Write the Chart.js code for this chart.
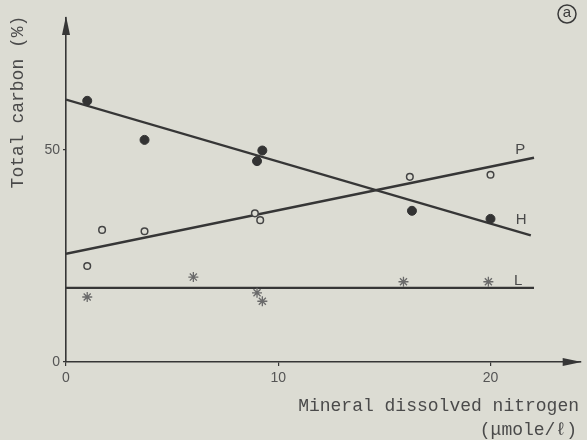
<!DOCTYPE html>
<html>
<head>
<meta charset="utf-8">
<script src="https://cdn.jsdelivr.net/npm/chart.js@4"></script>
<style>
  html, body { margin: 0; padding: 0; background: #dcdcd3; }
  #wrap { width: 587px; height: 440px; position: relative; }
</style>
</head>
<body>
<div id="wrap"><canvas id="chart"></canvas></div>
<script>
// Total carbon vs. mineral dissolved nitrogen, three groups (H, P, L)

// H: filled circles
var hX = [1.0, 3.7, 9.0, 9.25, 16.3, 20.0];
var hY = [61.5, 52.3, 47.3, 49.8, 35.6, 33.7];
// P: open circles
var pX = [1.0, 1.7, 3.7, 8.9, 9.15, 16.2, 20.0];
var pY = [22.6, 31.1, 30.8, 35.0, 33.4, 43.6, 44.1];
// L: asterisks
var lX = [1.0, 6.0, 9.0, 9.25, 15.9, 19.9];
var lY = [15.3, 20.0, 16.3, 14.3, 18.9, 18.9];

// fitted lines, [start, end]
var hFitX = [0, 21.9],  hFitY = [61.8, 29.8];
var pFitX = [0, 22.05], pFitY = [25.5, 48.1];
var lFitX = [0, 22.05], lFitY = [17.45, 17.45];

// series tags at the right end of each line
var tagText = ['P', 'H', 'L'];
var tagX = [21.4, 21.45, 21.3];
var tagY = [50.0, 33.4, 19.1];

var xTicks = [0, 10, 20];
var yTicks = [0, 50];
var xMax = 24.25, yMax = 81;

var BG = '#dcdcd3';
var INK = '#363636';
var MONO = '"Liberation Mono", "DejaVu Sans Mono", monospace';
var SANS = '"Liberation Sans", Arial, sans-serif';

function pts(xs, ys) {
  return xs.map(function(x, i) { return { x: x, y: ys[i] }; });
}

function fitLine(xs, ys) {
  return {
    type: 'line',
    data: pts(xs, ys),
    borderColor: INK,
    borderWidth: 2.4,
    pointRadius: 0,
    fill: false,
    tension: 0,
    order: 2
  };
}

// axis arrows, titles, series tags and the panel letter
var decorations = {
  id: 'decorations',
  afterDraw: function(chart) {
    var ctx = chart.ctx, a = chart.chartArea;
    var xs = chart.scales.x, ys = chart.scales.y;
    ctx.save();
    ctx.fillStyle = INK;
    // y arrow
    ctx.beginPath();
    ctx.moveTo(a.left, a.top - 2);
    ctx.lineTo(a.left - 4, a.top + 17);
    ctx.lineTo(a.left + 4, a.top + 17);
    ctx.closePath();
    ctx.fill();
    // x arrow
    ctx.beginPath();
    ctx.moveTo(a.right + 1, a.bottom);
    ctx.lineTo(a.right - 18, a.bottom - 4);
    ctx.lineTo(a.right - 18, a.bottom + 4);
    ctx.closePath();
    ctx.fill();

    // axis titles
    ctx.fillStyle = '#4a4a4a';
    ctx.font = '18px ' + MONO;
    ctx.textBaseline = 'middle';
    ctx.save();
    ctx.translate(18, 102);
    ctx.rotate(-Math.PI / 2);
    ctx.textAlign = 'center';
    ctx.fillText('Total carbon (%)', 0, 0);
    ctx.restore();
    ctx.textAlign = 'right';
    ctx.fillText('Mineral dissolved nitrogen', 579, 406);
    ctx.fillText('(\u03bcmole/\u2113)', 577, 430);

    // series tags
    ctx.font = '15px ' + SANS;
    ctx.fillStyle = '#4a4a4a';
    ctx.textAlign = 'center';
    tagText.forEach(function(t, i) {
      ctx.fillText(t, xs.getPixelForValue(tagX[i]), ys.getPixelForValue(tagY[i]));
    });

    // panel letter
    ctx.strokeStyle = '#3a3a3a';
    ctx.lineWidth = 1.5;
    ctx.beginPath();
    ctx.arc(567, 14, 9, 0, Math.PI * 2);
    ctx.stroke();
    ctx.fillStyle = '#3a3a3a';
    ctx.font = '15px ' + SANS;
    ctx.fillText('a', 567, 13);
    ctx.restore();
  }
};

new Chart(document.getElementById('chart'), {
  type: 'scatter',
  data: {
    datasets: [
      fitLine(hFitX, hFitY),
      fitLine(pFitX, pFitY),
      fitLine(lFitX, lFitY),
      {
        data: pts(hX, hY),
        backgroundColor: '#333',
        borderColor: '#333',
        borderWidth: 1,
        pointRadius: 4.5,
        order: 1
      },
      {
        data: pts(pX, pY),
        backgroundColor: BG,
        borderColor: '#444',
        borderWidth: 1.5,
        pointRadius: 3.3,
        order: 1
      },
      {
        data: pts(lX, lY),
        pointStyle: 'star',
        backgroundColor: '#6a6a6a',
        borderColor: '#6a6a6a',
        borderWidth: 1.3,
        pointRadius: 5,
        order: 1
      }
    ]
  },
  options: {
    responsive: true,
    maintainAspectRatio: false,
    animation: false,
    layout: { padding: { top: 18, right: 2, left: 0, bottom: 0 } },
    plugins: { legend: { display: false }, tooltip: { enabled: false } },
    scales: {
      x: {
        type: 'linear',
        min: 0,
        max: xMax,
        afterFit: function(s) { s.height = 78; },
        afterBuildTicks: function(s) { s.ticks = xTicks.map(function(v) { return { value: v }; }); },
        border: { display: true, color: INK, width: 1.6 },
        grid: { drawOnChartArea: false, color: INK, tickLength: 4, lineWidth: 1.2 },
        ticks: { color: '#555', padding: 4, font: { family: SANS, size: 14 } }
      },
      y: {
        type: 'linear',
        min: 0,
        max: yMax,
        afterFit: function(s) { s.width = 66; },
        afterBuildTicks: function(s) { s.ticks = yTicks.map(function(v) { return { value: v }; }); },
        border: { display: true, color: INK, width: 1.6 },
        grid: { drawOnChartArea: false, color: INK, tickLength: 3, lineWidth: 1.2 },
        ticks: { color: '#555', padding: 3, font: { family: SANS, size: 14 } }
      }
    }
  },
  plugins: [decorations]
});
</script>
</body>
</html>
